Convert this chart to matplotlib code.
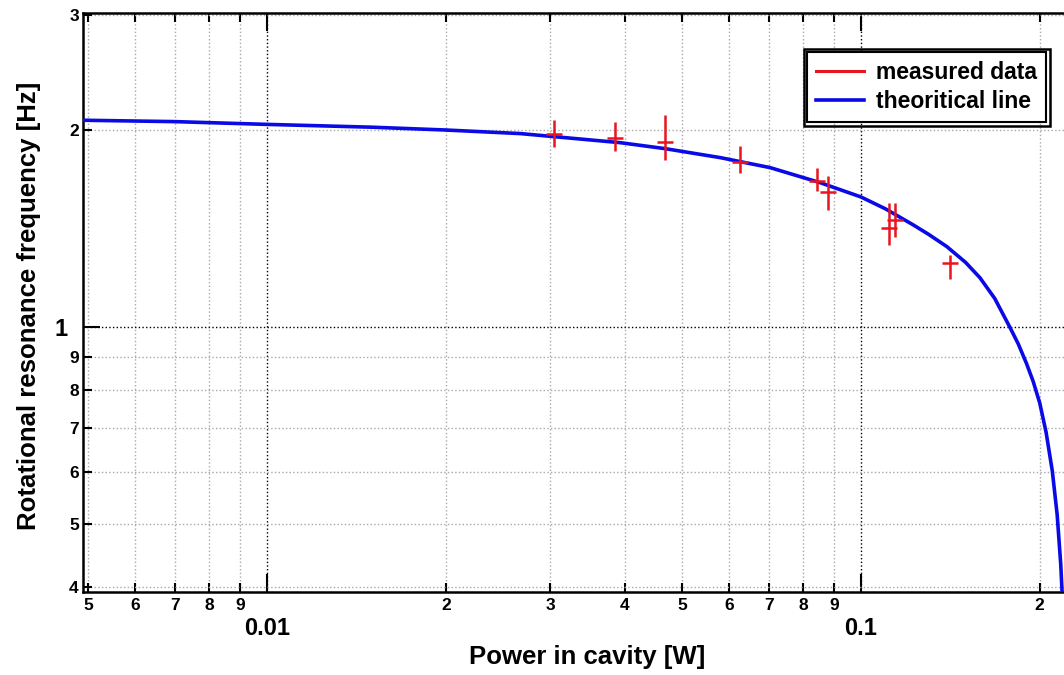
import matplotlib
matplotlib.use("Agg")
import matplotlib.pyplot as plt
from matplotlib.lines import Line2D
from matplotlib.patches import Rectangle

plt.rcParams['font.family'] = ['Liberation Sans', 'DejaVu Sans']
plt.rcParams['font.weight'] = 'bold'

# measured points (power [W], frequency [Hz], lower / upper error)
meas_p = [0.0304, 0.0385, 0.0468, 0.0626, 0.0843, 0.0880, 0.1115, 0.1141, 0.1412]
meas_f = [1.97, 1.947, 1.92, 1.79, 1.673, 1.61, 1.418, 1.458, 1.253]
err_lo = [0.083, 0.087, 0.118, 0.069, 0.058, 0.099, 0.083, 0.084, 0.069]
err_hi = [0.105, 0.113, 0.185, 0.103, 0.079, 0.093, 0.131, 0.091, 0.036]

# theoretical line
theo_p = [0.0049, 0.007, 0.01, 0.015, 0.02, 0.0267, 0.0304, 0.0393, 0.0468,
          0.0579, 0.0703, 0.0853, 0.1, 0.11, 0.1223, 0.13, 0.1396, 0.15,
          0.1586, 0.168, 0.178, 0.184, 0.19, 0.195, 0.2, 0.205, 0.21,
          0.214, 0.217, 0.2185]
theo_f = [2.07, 2.06, 2.04, 2.02, 2.0, 1.975, 1.954, 1.913, 1.873,
          1.815, 1.752, 1.662, 1.58, 1.515, 1.433, 1.385, 1.326, 1.255,
          1.189, 1.105, 1.0, 0.942, 0.879, 0.825, 0.765, 0.69, 0.602,
          0.516, 0.433, 0.381]

x_major = [0.01, 0.1]
x_major_lbl = ['0.01', '0.1']
x_minor = [0.005, 0.006, 0.007, 0.008, 0.009,
           0.02, 0.03, 0.04, 0.05, 0.06, 0.07, 0.08, 0.09, 0.2]
x_minor_lbl = ['5', '6', '7', '8', '9', '2', '3', '4', '5', '6', '7', '8', '9', '2']
y_major = [1]
y_major_lbl = ['1']
y_minor = [0.4, 0.5, 0.6, 0.7, 0.8, 0.9, 2, 3]
y_minor_lbl = ['4', '5', '6', '7', '8', '9', '2', '3']

fig = plt.figure(figsize=(10.64, 6.75), dpi=100)
ax = fig.add_axes([83 / 1064, 1 - 592 / 675, 1008 / 1064, 579 / 675])

ax.plot(theo_p, theo_f, color='#0a0ae6', lw=2.6, zorder=3)
ax.errorbar(meas_p, meas_f, yerr=[err_lo, err_hi], fmt='_', color='#e8141e',
            ecolor='#e8141e', elinewidth=1.8, markersize=11, mew=1.8,
            capsize=0, zorder=4)

ax.set_xscale('log')
ax.set_yscale('log')
ax.set_xticks(x_major)
ax.set_xticklabels(x_major_lbl)
ax.set_xticks(x_minor, minor=True)
ax.set_xticklabels(x_minor_lbl, minor=True)
ax.set_yticks(y_major)
ax.set_yticklabels(y_major_lbl)
ax.set_yticks(y_minor, minor=True)
ax.set_yticklabels(y_minor_lbl, minor=True)
ax.set_xlim(0.0049, 0.244)
ax.set_ylim(0.393, 3.02)

ax.tick_params(which='both', direction='in', top=True, right=True, width=1.5)
ax.tick_params(which='major', axis='x', length=13, pad=18, labelsize=17)
ax.tick_params(which='minor', axis='x', length=6.5, pad=4, labelsize=12.5)
ax.tick_params(which='major', axis='y', length=12, pad=11, labelsize=17)
ax.tick_params(which='minor', axis='y', length=6.5, pad=3, labelsize=12.5)

ax.set_axisbelow(True)
ax.grid(True, which='major', color='k', ls=':', lw=1.0)
ax.grid(True, which='minor', color='#a8a8a8', ls=':', lw=1.0)
for sp in ax.spines.values():
    sp.set_linewidth(1.8)

ax.set_xlabel('Power in cavity [W]', fontsize=18.5, fontweight='bold')
ax.set_ylabel('Rotational resonance frequency [Hz]', fontsize=18.5, fontweight='bold')
ax.xaxis.set_label_coords(0.5, -0.092)
ax.yaxis.set_label_coords(-0.042, 0.494)

handles = [Line2D([], [], color='#e8141e', lw=2.2),
           Line2D([], [], color='#0a0ae6', lw=2.6)]
leg = ax.legend(handles, ['measured data', 'theoritical line'],
                loc='upper right', bbox_to_anchor=(1046 / 1064, 1 - 52 / 675),
                bbox_transform=fig.transFigure, borderaxespad=0,
                prop={'size': 16.5, 'weight': 'bold'}, handlelength=2.1,
                handletextpad=0.5, labelspacing=0.25, borderpad=0.4,
                fancybox=False, framealpha=1, edgecolor='k')
leg.get_frame().set_linewidth(1.5)

# double border around the legend
fig.canvas.draw()
bb = leg.get_window_extent(fig.canvas.get_renderer())
bb = bb.transformed(fig.transFigure.inverted())
dx, dy = 3.5 / 1064, 3.5 / 675
fig.add_artist(Rectangle((bb.x0 - dx, bb.y0 - dy), bb.width + 2 * dx,
                         bb.height + 2 * dy, transform=fig.transFigure,
                         fill=False, ec='k', lw=1.8, zorder=10))

fig.savefig('out.png', dpi=100)
